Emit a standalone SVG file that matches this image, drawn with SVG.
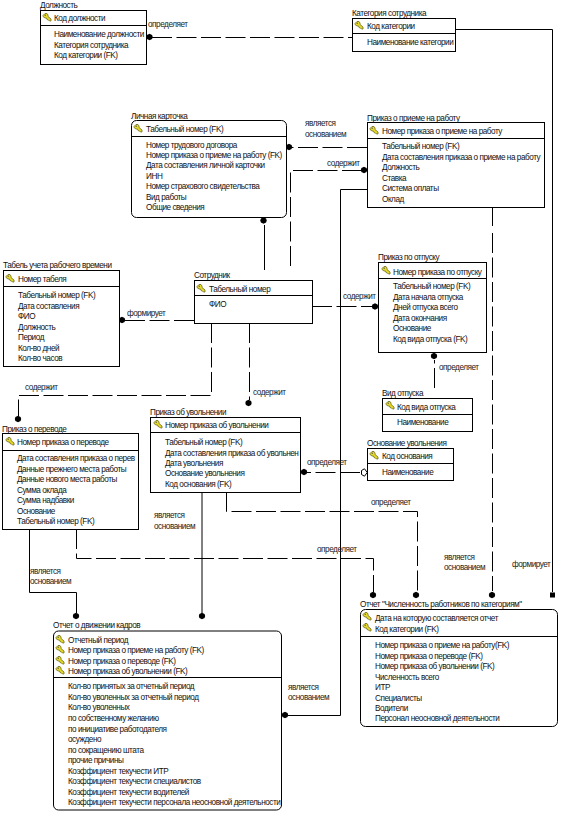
<svg xmlns="http://www.w3.org/2000/svg" xmlns:xlink="http://www.w3.org/1999/xlink" width="573" height="814" viewBox="0 0 573 814">
<style>
text{font-family:"Liberation Sans",Arial,sans-serif;font-size:8.2px;letter-spacing:-.46px;fill:#111}
.b{fill:#fff;stroke:#000;stroke-width:1}
.d{fill:none;stroke:#000;stroke-width:1}
.s{fill:none;stroke:#000;stroke-width:1}
.n{fill:none;stroke:#000;stroke-width:1;stroke-dasharray:20 4.5}
.l{fill:#222}
</style>
<defs>
<g id="key"><path d="M0 2.5 2 0.5 4 0.5 5 2 5 3.5 8 6 8 8 6.5 8 5.5 7 4 6.5 3.5 5 2 5 0 3.5Z" fill="#e6d92a" stroke="#6b6b20" stroke-width=".8"/><circle cx="2.2" cy="2.3" r=".7" fill="#555"/></g>
<path id="dia" d="M0 -3.2 2.6 -2 3.2 0 2.6 2 0 3.2 -2.6 2 -3.2 0 -2.6 -2Z" fill="#000"/>
</defs>
<rect width="573" height="814" fill="#fff"/>
<g id="connectors">
<path class="n" d="M152 37.5H352"/>
<path class="n" d="M367 147.5H292"/>
<path class="n" d="M362 170.5H290.5V270"/>
<path class="s" d="M367 189.5H340.5V715.5H288"/>
<path class="s" d="M492.5 208V226"/>
<path class="n" d="M492.5 233V591"/>
<path class="s" d="M455 29.5H552.5V592"/>
<path class="s" d="M264.5 225V270"/>
<path class="n" d="M194 320.5H125"/>
<path class="n" d="M312 306.5H372"/>
<path class="n" d="M434.5 388V360"/>
<path class="n" d="M211.5 323V395.5H18.5V416"/>
<path class="n" d="M249.5 323V400"/>
<path class="n" d="M360 472.5H307"/>
<path class="s" d="M202 492V613"/>
<path class="n" d="M226.5 492V511.5H417.5V592"/>
<path class="n" d="M76.5 529V558.5H373.5V592"/>
<path class="s" d="M29.5 529V592.5H76.5V613"/>
<use xlink:href="#dia" href="#dia" x="149.5" y="37"/>
<use xlink:href="#dia" href="#dia" x="289" y="147"/>
<use xlink:href="#dia" href="#dia" x="364" y="170"/>
<use xlink:href="#dia" href="#dia" x="285" y="715"/>
<use xlink:href="#dia" href="#dia" x="492" y="595"/>
<rect x="550" y="592.5" width="5" height="5" fill="#000"/>
<use xlink:href="#dia" href="#dia" x="263.5" y="220.5"/>
<use xlink:href="#dia" href="#dia" x="122" y="320"/>
<use xlink:href="#dia" href="#dia" x="375" y="306.5"/>
<use xlink:href="#dia" href="#dia" x="434" y="356"/>
<use xlink:href="#dia" href="#dia" x="18" y="419"/>
<use xlink:href="#dia" href="#dia" x="248.5" y="403"/>
<use xlink:href="#dia" href="#dia" x="304" y="472"/>
<path d="M364.5 468.8 367.2 472.5 364.5 476.2 361.5 474.5 361.5 470.5Z" fill="#fff" stroke="#000"/>
<use xlink:href="#dia" href="#dia" x="202" y="616"/>
<use xlink:href="#dia" href="#dia" x="416" y="595"/>
<use xlink:href="#dia" href="#dia" x="373" y="595"/>
<use xlink:href="#dia" href="#dia" x="76" y="616"/>
<g id="labels">
<text class="l" x="148" y="27">определяет</text>
<text class="l" x="305" y="126">является</text><text class="l" x="305" y="137">основанием</text>
<text class="l" x="327" y="166">содержит</text>
<text class="l" x="127" y="316">формирует</text>
<text class="l" x="343" y="299">содержит</text>
<text class="l" x="439" y="370">определяет</text>
<text class="l" x="25" y="390">содержит</text>
<text class="l" x="253" y="395">содержит</text>
<text class="l" x="307" y="465">определяет</text>
<text class="l" x="371" y="505">определяет</text>
<text class="l" x="317" y="552">определяет</text>
<text class="l" x="154" y="518">является</text><text class="l" x="154" y="529">основанием</text>
<text class="l" x="30" y="574">является</text><text class="l" x="30" y="584">основанием</text>
<text class="l" x="444" y="560">является</text><text class="l" x="444" y="570">основанием</text>
<text class="l" x="512" y="567">формирует</text>
<text class="l" x="288" y="690">является</text><text class="l" x="288" y="700">основанием</text>
</g>
</g>
<g id="n-dolzhnost">
<rect class="b" x="40.5" y="10.5" width="106" height="54"/><path class="d" d="M40.5 25.5H146.5"/>
<text x="40" y="8">Должность</text>
<use xlink:href="#key" href="#key" x="43" y="13"/>
<text x="54" y="21">Код должности</text>
<text x="54" y="37">Наименование должности</text><text x="54" y="48">Категория сотрудника</text><text x="54" y="58">Код категории (FK)</text>
</g>
<g id="n-kategoria">
<rect class="b" x="352.5" y="18.5" width="103" height="33"/><path class="d" d="M352.5 33.5H455.5"/>
<text x="352" y="16">Категория сотрудника</text>
<use xlink:href="#key" href="#key" x="355" y="21"/>
<text x="367" y="29">Код категории</text>
<text x="367" y="45">Наименование категории</text>
</g>
<g id="n-kartochka">
<rect class="b" x="131.5" y="120.5" width="155" height="97" rx="5"/><path class="d" d="M131.5 136.5H286.5"/>
<text x="131" y="119">Личная карточка</text>
<use xlink:href="#key" href="#key" x="134" y="124"/>
<text x="146" y="132">Табельный номер (FK)</text>
<text x="146" y="148">Номер трудового договора</text><text x="146" y="158">Номер приказа о приеме на работу (FK)</text><text x="146" y="168">Дата составления личной карточки</text><text x="146" y="179">ИНН</text><text x="146" y="189">Номер страхового свидетельства</text><text x="146" y="200">Вид работы</text><text x="146" y="210">Общие сведения</text>
</g>
<g id="n-priem">
<rect class="b" x="367.5" y="122.5" width="177" height="85"/><path class="d" d="M367.5 138.5H544.5"/>
<text x="367" y="121">Приказ о приеме на работу</text>
<use xlink:href="#key" href="#key" x="370" y="126"/>
<text x="382" y="134">Номер приказа о приеме на работу</text>
<text x="382" y="149">Табельный номер (FK)</text><text x="382" y="160">Дата составления приказа о приеме на работу</text><text x="382" y="170">Должность</text><text x="382" y="181">Ставка</text><text x="382" y="191">Система оплаты</text><text x="382" y="202">Оклад</text>
</g>
<g id="n-tabel">
<rect class="b" x="3.5" y="270.5" width="116" height="96"/><path class="d" d="M3.5 286.5H119.5"/>
<text x="3" y="268">Табель учета рабочего времени</text>
<use xlink:href="#key" href="#key" x="6" y="274"/>
<text x="18" y="282">Номер табеля</text>
<text x="18" y="298">Табельный номер (FK)</text><text x="18" y="309">Дата составления</text><text x="18" y="319">ФИО</text><text x="18" y="330">Должность</text><text x="18" y="340">Период</text><text x="18" y="351">Кол-во дней</text><text x="18" y="361">Кол-во часов</text>
</g>
<g id="n-sotrudnik">
<rect class="b" x="194.5" y="280.5" width="118" height="43"/><path class="d" d="M194.5 295.5H312.5"/>
<text x="194" y="278">Сотрудник</text>
<use xlink:href="#key" href="#key" x="197" y="284"/>
<text x="209" y="292">Табельный номер</text>
<text x="209" y="307">ФИО</text>
</g>
<g id="n-otpusk">
<rect class="b" x="378.5" y="262.5" width="108" height="90"/><path class="d" d="M378.5 278.5H486.5"/>
<text x="378" y="260">Приказ по отпуску</text>
<use xlink:href="#key" href="#key" x="382" y="266"/>
<text x="393" y="275">Номер приказа по отпуску</text>
<text x="393" y="289">Табельный номер (FK)</text><text x="393" y="300">Дата начала отпуска</text><text x="393" y="310">Дней отпуска всего</text><text x="393" y="321">Дата окончания</text><text x="393" y="331">Основание</text><text x="393" y="342">Код вида отпуска (FK)</text>
</g>
<g id="n-vid">
<rect class="b" x="382.5" y="398.5" width="90" height="33"/><path class="d" d="M382.5 414.5H472.5"/>
<text x="382" y="396">Вид отпуска</text>
<use xlink:href="#key" href="#key" x="386" y="401"/>
<text x="397" y="410">Код вида отпуска</text>
<text x="397" y="425">Наименование</text>
</g>
<g id="n-osnovanie">
<rect class="b" x="367.5" y="448.5" width="86" height="32"/><path class="d" d="M367.5 463.5H453.5"/>
<text x="367" y="446">Основание увольнения</text>
<use xlink:href="#key" href="#key" x="370" y="451"/>
<text x="382" y="459">Код основания</text>
<text x="382" y="475">Наименование</text>
</g>
<g id="n-uvolnenie">
<rect class="b" x="150.5" y="417.5" width="150" height="75"/><path class="d" d="M150.5 432.5H300.5"/>
<text x="150" y="415">Приказ об увольнении</text>
<use xlink:href="#key" href="#key" x="154" y="420"/>
<text x="165" y="428">Номер приказа об увольнении</text>
<text x="165" y="445">Табельный номер (FK)</text><text x="165" y="456">Дата составления приказа об увольнен</text><text x="165" y="466">Дата увольнения</text><text x="165" y="476">Основание увольнения</text><text x="165" y="487">Код основания (FK)</text>
</g>
<g id="n-perevod">
<rect class="b" x="2.5" y="433.5" width="136" height="96"/><path class="d" d="M2.5 450.5H138.5"/>
<text x="2" y="432">Приказ о переводе</text>
<use xlink:href="#key" href="#key" x="6" y="437"/>
<text x="17" y="445">Номер приказа о переводе</text>
<text x="17" y="461">Дата составления приказа о перев</text><text x="17" y="472">Данные прежнего места работы</text><text x="17" y="482">Данные нового места работы</text><text x="17" y="493">Сумма оклада</text><text x="17" y="503">Сумма надбавки</text><text x="17" y="514">Основание</text><text x="17" y="524">Табельный номер (FK)</text>
</g>
<g id="n-dvizhenie">
<rect class="b" x="53.5" y="631" width="228" height="179" rx="5"/><path class="d" d="M53.5 677.5H281.5"/>
<text x="53" y="628">Отчет о движении кадров</text>
<use xlink:href="#key" href="#key" x="56" y="635"/><use xlink:href="#key" href="#key" x="56" y="645"/><use xlink:href="#key" href="#key" x="56" y="656"/><use xlink:href="#key" href="#key" x="56" y="666"/>
<text x="68" y="643">Отчетный период</text><text x="68" y="653">Номер приказа о приеме на работу (FK)</text><text x="68" y="664">Номер приказа о переводе (FK)</text><text x="68" y="674">Номер приказа об увольнении (FK)</text>
<text x="68" y="689">Кол-во принятых за отчетный период</text><text x="68" y="700">Кол-во уволенных за отчетный период</text><text x="68" y="710">Кол-во уволенных</text><text x="68" y="721">по собственному желанию</text><text x="68" y="732">по инициативе работодателя</text><text x="68" y="742">осуждено</text><text x="68" y="753">по сокращению штата</text><text x="68" y="763">прочие причины</text><text x="68" y="774">Коэффициент текучести ИТР</text><text x="68" y="784">Коэффициент текучести специалистов</text><text x="68" y="795">Коэффициент текучести водителей</text><text x="68" y="805">Коэффициент текучести персонала неосновной деятельности</text>
</g>
<g id="n-chislennost">
<rect class="b" x="360.5" y="609.5" width="197" height="117" rx="5"/><path class="d" d="M360.5 636.5H557.5"/>
<text x="360" y="607">Отчет "Численность работников по категориям"</text>
<use xlink:href="#key" href="#key" x="363" y="612"/><use xlink:href="#key" href="#key" x="363" y="623"/>
<text x="375" y="621">Дата на которую составляется отчет</text><text x="375" y="632">Код категории (FK)</text>
<text x="375" y="648">Номер приказа о приеме на работу(FK)</text><text x="375" y="659">Номер приказа о переводе (FK)</text><text x="375" y="669">Номер приказа об увольнении (FK)</text><text x="375" y="680">Численность всего</text><text x="375" y="690">ИТР</text><text x="375" y="701">Специалисты</text><text x="375" y="711">Водители</text><text x="375" y="721">Персонал неосновной деятельности</text>
</g>
</svg>
